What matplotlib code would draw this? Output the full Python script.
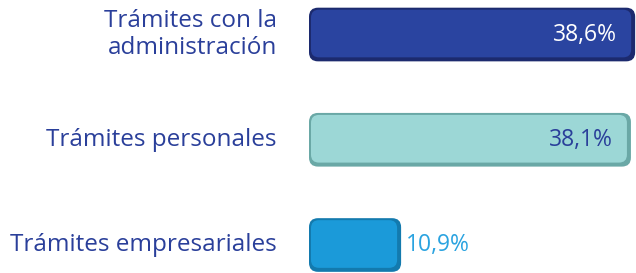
import matplotlib.pyplot as plt
from matplotlib.patches import FancyBboxPatch

plt.rcParams['font.family'] = ['Open Sans', 'DejaVu Sans']

categorias = ['Trámites con la\nadministración', 'Trámites personales', 'Trámites empresariales']
valores = [38.6, 38.1, 10.9]
etiquetas = ['38,6%', '38,1%', '10,9%']
col_barra = ['#2a44a0', '#9cd7d6', '#1b9ad9']
col_borde = ['#1c2a6e', '#6aa8a6', '#137aae']
col_texto = ['white', '#2a3f9a', '#2aa3e0']
texto_dentro = [True, True, False]

W, H = 636, 273
fig = plt.figure(figsize=(W / 100, H / 100), dpi=100)
ax = fig.add_axes([309 / W, 0, (W - 309) / W, 1])
ax.set_xlim(0, 38.7)
ax.set_ylim(2.266, -0.328)
ax.axis('off')

px = 38.7 / (W - 309)          # unidades x por pixel
py = 2.594 / H                 # unidades y por pixel
alto = 0.51
for i, (v, cb, ce) in enumerate(zip(valores, col_barra, col_borde)):
    # sombra / borde oscuro
    base = FancyBboxPatch((0, i - alto / 2), v, alto,
                          boxstyle='round,pad=0,rounding_size=%f' % (9 * px),
                          mutation_aspect=py / px, fc=ce, ec='none')
    ax.add_patch(base)
    # cara principal algo más pequeña
    cara = FancyBboxPatch((2 * px, i - alto / 2 + 2 * py), v - 6 * px, alto - 6 * py,
                          boxstyle='round,pad=0,rounding_size=%f' % (8 * px),
                          mutation_aspect=py / px, fc=cb, ec='none')
    ax.add_patch(cara)

for i, (v, t, c, dentro) in enumerate(zip(valores, etiquetas, col_texto, texto_dentro)):
    if dentro:
        ax.text(v - 18 * px, i, t, ha='right', va='center', color=c, fontsize=16.5)
    else:
        ax.text(v + 5 * px, i, t, ha='left', va='center', color=c, fontsize=16.5)

for i, cat in enumerate(categorias):
    ax.text(-32 * px, i, cat, ha='right', va='center', color='#2a3f9a',
            fontsize=17.5, linespacing=1.15, clip_on=False)

fig.savefig('out.png', dpi=100)
